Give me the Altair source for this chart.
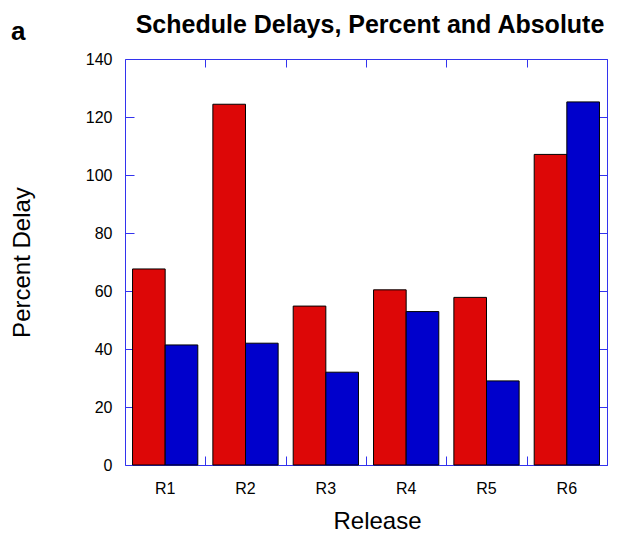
import altair as alt
import pandas as pd

# ---- data ----
releases = ["R1", "R2", "R3", "R4", "R5", "R6"]
percent_delay = [67.6, 124.4, 54.8, 60.4, 57.8, 107.1]
absolute_delay = [41.4, 42.0, 32.0, 52.9, 29.0, 125.2]
series_names = ["Percent", "Absolute"]
series_colors = ["#dd0707", "#0000cc"]
y_ticks = [0, 20, 40, 60, 80, 100, 120, 140]
panel_label = ["a"]
chart_title = "Schedule Delays, Percent and Absolute"

df = pd.DataFrame({
    "release": releases * 2,
    "series": [series_names[0]] * len(releases) + [series_names[1]] * len(releases),
    "value": percent_delay + absolute_delay,
})

W, H = 482, 406
FONT = "Liberation Sans"
FRAME = "#3333ee"
P_IN, P_OUT = 0.1875, 0.09375
half_gap = P_IN * (W / len(releases)) / 2

x_scale = alt.Scale(domain=releases, paddingInner=P_IN, paddingOuter=P_OUT)
y_scale = alt.Scale(domain=[0, 140], nice=False, zero=True)

base = alt.Chart(df)

bars = base.mark_bar(stroke="black", strokeWidth=1).encode(
    x=alt.X("release:N", scale=x_scale, sort=releases,
            axis=alt.Axis(orient="bottom", ticks=False, tickSize=0, domain=False, grid=False,
                          labelFontSize=16, labelFont=FONT, labelPadding=15, labelAngle=0,
                          labelColor="black", title="Release", titleFont=FONT, titleFontSize=24,
                          titleFontWeight="normal", titleColor="black", titleX=252, titleY=63,
                          titleAlign="center", titleBaseline="alphabetic")),
    xOffset=alt.XOffset("series:N", sort=series_names,
                        scale=alt.Scale(domain=series_names, paddingInner=0, paddingOuter=0)),
    y=alt.Y("value:Q", scale=y_scale,
            axis=alt.Axis(orient="left", values=y_ticks, ticks=False, tickSize=0, domain=False,
                          grid=False, labelFontSize=16, labelFont=FONT, labelPadding=13,
                          labelColor="black", title="Percent Delay", titleFont=FONT,
                          titleFontSize=24, titleFontWeight="normal", titleColor="black",
                          titleAngle=270, titleX=-96, titleY=H / 2, titleAlign="center",
                          titleBaseline="alphabetic")),
    color=alt.Color("series:N", scale=alt.Scale(domain=series_names, range=series_colors),
                    legend=None),
)

tick_common = dict(labels=False, domain=False, grid=False, title=None,
                   tickColor=FRAME, tickWidth=1)

ticks_bottom_left = base.mark_point(opacity=0).encode(
    x=alt.X("release:N", scale=x_scale, sort=releases,
            axis=alt.Axis(orient="bottom", offset=-9, tickSize=9, bandPosition=1,
                          tickOffset=half_gap, tickExtra=False, **tick_common)),
    y=alt.Y("value:Q", scale=y_scale,
            axis=alt.Axis(orient="left", offset=-9, tickSize=9, values=y_ticks, **tick_common)),
)

ticks_top_right = base.mark_point(opacity=0).encode(
    x=alt.X("release:N", scale=x_scale, sort=releases,
            axis=alt.Axis(orient="top", offset=-8, tickSize=8, bandPosition=1,
                          tickOffset=half_gap, tickExtra=False, **tick_common)),
    y=alt.Y("value:Q", scale=y_scale,
            axis=alt.Axis(orient="right", offset=-9, tickSize=9, values=y_ticks, **tick_common)),
)

label_a = alt.Chart(pd.DataFrame({"t": panel_label})).mark_text(
    align="left", baseline="alphabetic", fontSize=26, fontWeight="bold", font=FONT, color="black"
).encode(x=alt.value(-114), y=alt.value(-19), text="t:N")

chart = (
    alt.layer(bars, ticks_bottom_left, ticks_top_right, label_a)
    .resolve_axis(x="independent", y="independent")
    .properties(
        width=W, height=H,
        title=alt.TitleParams(chart_title, fontSize=25, fontWeight="bold", font=FONT,
                              anchor="middle", offset=-19, dx=4, color="black"),
        autosize=alt.AutoSizeParams(type="none"),
        padding={"left": 117, "top": 51, "right": 4, "bottom": 70},
    )
    .configure_view(stroke=FRAME, strokeWidth=1)
)

chart.save("out.html", embed_options={"renderer": "svg", "actions": False})
